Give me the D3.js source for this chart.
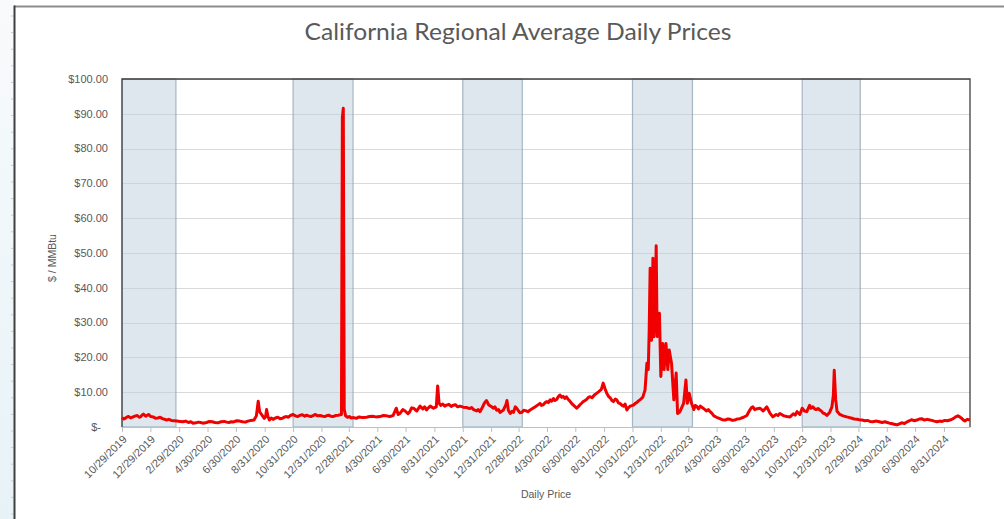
<!DOCTYPE html>
<html>
<head>
<meta charset="utf-8">
<script src="https://cdn.jsdelivr.net/npm/d3@7"></script>
<style>
  html, body { margin: 0; padding: 0; background: #ffffff; }
  svg { display: block; }
</style>
</head>
<body>
<svg id="chart" width="1004" height="519"></svg>
<script>
// ---------------- DATA ----------------
const chartTitle = "California Regional Average Daily Prices";
const yAxisTitle = "$ / MMBtu";
const xAxisTitle = "Daily Price";

const yTickValues = [0, 10, 20, 30, 40, 50, 60, 70, 80, 90, 100];

const xTickLabels = ["10/29/2019","12/29/2019","2/29/2020","4/30/2020","6/30/2020","8/31/2020",
  "10/31/2020","12/31/2020","2/28/2021","4/30/2021","6/30/2021","8/31/2021","10/31/2021",
  "12/31/2021","2/28/2022","4/30/2022","6/30/2022","8/31/2022","10/31/2022","12/31/2022",
  "2/28/2023","4/30/2023","6/30/2023","8/31/2023","10/31/2023","12/31/2023","2/29/2024",
  "4/30/2024","6/30/2024","8/31/2024"];

const domainStart = "2019-10-29";
const domainEnd = "2024-10-26";

// Winter shaded periods
const bandStarts = ["2019-10-29","2020-10-31","2021-10-31","2022-10-31","2023-10-31"];
const bandEnds   = ["2020-02-22","2021-03-09","2022-03-08","2023-03-09","2024-03-04"];

const priceDates = [
"2019-10-29","2019-11-02","2019-11-05","2019-11-09","2019-11-12","2019-11-17","2019-11-22","2019-11-27","2019-12-01","2019-12-05","2019-12-08","2019-12-11","2019-12-14","2019-12-19","2019-12-25","2019-12-30",
"2020-01-04","2020-01-09","2020-01-14","2020-01-19","2020-01-24","2020-02-02","2020-02-07","2020-02-12","2020-02-18","2020-02-24","2020-03-02","2020-03-08","2020-03-14","2020-03-20","2020-03-25","2020-03-30",
"2020-04-05","2020-04-10","2020-04-15","2020-04-20","2020-04-28","2020-05-04","2020-05-10","2020-05-16","2020-05-22","2020-05-29","2020-06-05","2020-06-10","2020-06-15","2020-06-20","2020-06-25","2020-07-02","2020-07-08",
"2020-07-14","2020-07-20","2020-07-26","2020-08-01","2020-08-08","2020-08-13","2020-08-17","2020-08-20","2020-08-24","2020-08-30","2020-09-02",
"2020-09-04","2020-09-07","2020-09-10","2020-09-14","2020-09-18","2020-09-23","2020-09-28","2020-10-03","2020-10-08","2020-10-13","2020-10-17","2020-10-21","2020-10-25","2020-10-31",
"2020-11-05","2020-11-10","2020-11-15","2020-11-20","2020-11-25","2020-11-29","2020-12-03","2020-12-08","2020-12-13","2020-12-18","2020-12-23","2020-12-28","2021-01-03","2021-01-08","2021-01-12","2021-01-16","2021-01-20","2021-01-25",
"2021-01-30","2021-02-05","2021-02-12","2021-02-14","2021-02-16","2021-02-18","2021-02-21","2021-02-25","2021-03-01","2021-03-05","2021-03-10","2021-03-16","2021-03-22",
"2021-03-30","2021-04-07","2021-04-13","2021-04-20","2021-04-27","2021-05-06","2021-05-13","2021-05-20","2021-05-27","2021-06-03","2021-06-10","2021-06-14","2021-06-18","2021-06-24",
"2021-06-29","2021-07-05","2021-07-09","2021-07-13","2021-07-17","2021-07-24","2021-07-31","2021-08-06","2021-08-10","2021-08-14",
"2021-08-18","2021-08-22","2021-08-29","2021-09-04","2021-09-07","2021-09-10","2021-09-14","2021-09-18","2021-09-22","2021-09-26","2021-10-01","2021-10-06","2021-10-10","2021-10-15",
"2021-10-20","2021-10-25","2021-11-01","2021-11-08","2021-11-15","2021-11-19","2021-11-23","2021-11-30","2021-12-03","2021-12-07","2021-12-12","2021-12-17",
"2021-12-21","2021-12-26","2022-01-01","2022-01-05","2022-01-08","2022-01-12","2022-01-16","2022-01-19","2022-01-26","2022-02-01","2022-02-03",
"2022-02-06","2022-02-10","2022-02-14","2022-02-17","2022-02-21","2022-02-24","2022-02-28","2022-03-03","2022-03-07","2022-03-11","2022-03-15","2022-03-20","2022-03-25",
"2022-03-30","2022-04-05","2022-04-10","2022-04-15","2022-04-18","2022-04-22","2022-04-26","2022-04-30","2022-05-03","2022-05-07","2022-05-10","2022-05-14","2022-05-17","2022-05-21","2022-05-24","2022-05-28","2022-06-01","2022-06-04",
"2022-06-08","2022-06-11","2022-06-15","2022-06-18","2022-06-22","2022-06-26","2022-07-03","2022-07-07","2022-07-10","2022-07-14","2022-07-17","2022-07-21","2022-07-25","2022-07-28","2022-08-01","2022-08-05","2022-08-10",
"2022-08-14","2022-08-19","2022-08-25","2022-08-29","2022-09-02","2022-09-06","2022-09-10","2022-09-13","2022-09-17","2022-09-20","2022-09-24","2022-09-27","2022-10-01","2022-10-04",
"2022-10-08","2022-10-12","2022-10-15","2022-10-19","2022-10-22","2022-10-26","2022-11-02","2022-11-06","2022-11-09","2022-11-13","2022-11-16","2022-11-22","2022-11-27","2022-12-01",
"2022-12-04","2022-12-06","2022-12-08","2022-12-10","2022-12-11","2022-12-14","2022-12-16","2022-12-19","2022-12-21",
"2022-12-23","2022-12-28","2022-12-31","2023-01-04","2023-01-07","2023-01-11","2023-01-15","2023-01-18","2023-01-23",
"2023-01-28","2023-02-02","2023-02-05","2023-02-10","2023-02-18","2023-02-23","2023-02-26","2023-03-02","2023-03-07",
"2023-03-12","2023-03-15","2023-03-19","2023-03-22","2023-03-26","2023-04-01","2023-04-05","2023-04-08","2023-04-12","2023-04-16","2023-04-20","2023-04-24","2023-04-30","2023-05-07",
"2023-05-12","2023-05-18","2023-05-24","2023-05-29","2023-06-03","2023-06-08","2023-06-13","2023-06-19","2023-06-27","2023-07-04","2023-07-10","2023-07-14","2023-07-17","2023-07-21","2023-07-24",
"2023-08-01","2023-08-05","2023-08-08","2023-08-12","2023-08-16","2023-08-23","2023-08-29","2023-09-05","2023-09-09","2023-09-13","2023-09-18","2023-09-22","2023-09-28","2023-10-05",
"2023-10-12","2023-10-16","2023-10-20","2023-10-26","2023-10-31","2023-11-05","2023-11-10","2023-11-16","2023-11-19","2023-11-23","2023-11-27","2023-11-30",
"2023-12-04","2023-12-08","2023-12-12","2023-12-15","2023-12-19","2023-12-23","2023-12-29","2024-01-03","2024-01-06","2024-01-08","2024-01-11","2024-01-14",
"2024-01-20","2024-01-27","2024-02-04","2024-02-10","2024-02-15","2024-02-20","2024-02-26","2024-03-02","2024-03-08","2024-03-14","2024-03-19","2024-03-25","2024-03-31","2024-04-06","2024-04-12",
"2024-04-20","2024-04-26","2024-05-01","2024-05-06","2024-05-10","2024-05-16","2024-05-22","2024-05-27","2024-06-01","2024-06-07","2024-06-13","2024-06-18","2024-06-22","2024-06-28","2024-07-04","2024-07-09","2024-07-14",
"2024-07-20","2024-07-26","2024-08-01","2024-08-05","2024-08-10","2024-08-16","2024-08-22","2024-08-27","2024-09-02","2024-09-07","2024-09-13","2024-09-20","2024-09-25","2024-09-30","2024-10-04","2024-10-07","2024-10-11","2024-10-15",
"2024-10-20","2024-10-26"];

const priceValues = [
2.7,2.3,2.5,2.9,3.0,2.6,2.9,3.2,3.3,2.8,2.9,3.4,3.7,3.1,3.6,3.0,
2.9,2.5,2.6,2.8,2.4,2.0,2.2,1.9,1.8,1.7,1.6,1.5,1.7,1.3,1.5,1.05,
1.2,1.4,1.3,1.1,1.3,1.6,1.5,1.3,1.2,1.5,1.6,1.4,1.3,1.5,1.45,1.8,1.7,
1.5,1.4,1.7,1.9,2.0,3.2,7.4,4.4,3.6,2.5,3.0,
5.0,3.0,2.0,2.6,2.2,2.6,2.8,2.4,2.5,2.9,3.0,2.8,3.3,3.6,
3.2,3.0,3.4,3.5,3.1,3.4,3.2,3.0,3.3,3.6,3.2,3.3,3.1,3.0,3.3,3.4,3.1,3.0,
3.3,3.4,3.6,89.0,91.6,5.0,3.2,2.8,3.0,2.6,2.7,2.5,2.9,
2.7,2.8,3.0,3.1,2.9,3.0,3.3,3.2,3.0,3.3,5.4,3.6,3.9,5.0,
4.6,3.8,4.4,5.5,5.4,4.6,6.0,5.2,5.8,4.9,
5.5,6.0,5.4,5.8,11.8,6.8,6.2,6.6,6.0,6.3,6.5,5.9,6.2,6.4,
5.8,6.0,5.7,5.6,5.3,5.6,5.0,4.6,5.0,4.4,5.6,7.0,
7.6,6.3,5.8,5.4,5.8,4.8,5.0,4.2,4.8,6.5,7.6,
4.8,3.9,4.5,4.2,5.8,5.4,4.6,4.1,4.2,4.8,4.7,4.4,4.9,
5.3,5.8,6.3,6.8,6.2,6.4,7.0,7.3,7.0,7.8,7.4,8.2,7.6,7.9,8.6,9.2,8.5,8.8,
8.2,8.7,7.9,7.5,6.8,6.3,5.4,5.9,6.4,6.9,7.3,7.6,8.0,8.5,8.7,8.4,9.2,
9.6,10.1,10.8,12.6,11.0,9.6,8.7,8.4,7.6,7.3,8.0,7.8,6.9,6.8,
6.3,6.0,6.6,4.9,5.5,6.0,6.3,6.8,7.0,7.5,7.8,8.5,10.6,18.3,
16.5,28.0,45.6,30.0,24.9,48.5,25.9,35.0,52.1,
26.0,32.7,14.5,24.0,16.5,24.0,16.5,22.1,18.3,
7.8,15.5,3.9,4.4,6.8,13.5,6.8,9.7,6.8,
5.0,6.2,5.8,5.2,6.0,5.4,5.0,4.6,5.0,4.4,3.9,3.2,2.8,2.4,
2.1,2.0,2.3,2.2,1.9,2.0,2.3,2.4,2.8,3.3,4.8,5.6,5.8,5.0,5.2,
5.4,5.0,4.6,5.2,5.8,3.9,2.9,3.6,3.3,3.9,3.5,3.2,3.0,2.9,
3.8,3.4,4.4,3.6,5.4,4.6,4.4,6.2,5.4,5.8,5.2,5.0,
5.3,4.9,4.5,4.0,3.8,3.3,4.2,5.8,9.0,16.3,8.0,4.5,
3.6,3.2,2.9,2.7,2.5,2.3,2.2,2.1,2.0,1.8,1.9,1.6,1.5,1.7,1.6,
1.3,1.5,1.3,1.1,1.0,0.8,0.6,0.9,1.2,1.0,1.5,1.8,2.1,1.8,2.0,2.3,2.4,
2.0,2.2,2.0,1.9,1.7,1.5,1.7,1.6,1.9,1.8,2.0,2.4,2.9,3.2,2.9,2.6,2.1,1.7,
2.2,2.0];

// ---------------- DRAW ----------------
const svg = d3.select("#chart");
const W = 1004, H = 519;
const plot = { left: 122, right: 970, top: 79, bottom: 427 };

const parseISO = d3.timeParse("%Y-%m-%d");
const parseUS = d3.timeParse("%m/%d/%Y");

const x = d3.scaleTime()
  .domain([parseISO(domainStart), parseISO(domainEnd)])
  .range([plot.left, plot.right]);
const y = d3.scaleLinear().domain([0, 100]).range([plot.bottom, plot.top]);

// page decoration: left strip + frame lines
const defs = svg.append("defs");
const grad = defs.append("linearGradient").attr("id", "strip").attr("x1", 0).attr("y1", 0).attr("x2", 0).attr("y2", 1);
grad.append("stop").attr("offset", "0%").attr("stop-color", "#f8fbfc");
grad.append("stop").attr("offset", "100%").attr("stop-color", "#e7f2f7");
svg.append("rect").attr("x", 0).attr("y", 0).attr("width", 14).attr("height", H).attr("fill", "url(#strip)");
svg.append("g").selectAll("line").data(d3.range(16, H, 16.6)).join("line")
  .attr("x1", 11).attr("x2", 13.5).attr("y1", d => d).attr("y2", d => d)
  .attr("stroke", "#c8cdd0").attr("stroke-width", 1);
svg.append("line").attr("x1", 14).attr("x2", W).attr("y1", 6.5).attr("y2", 6.5)
  .attr("stroke", "#8c8c8c").attr("stroke-width", 2);
svg.append("line").attr("x1", 14.5).attr("x2", 14.5).attr("y1", 5.5).attr("y2", H)
  .attr("stroke", "#3f3f3f").attr("stroke-width", 2);

// title
svg.append("text")
  .attr("x", 518).attr("y", 40)
  .attr("text-anchor", "middle")
  .attr("font-family", "Lato, 'Liberation Sans', sans-serif")
  .attr("font-size", 24)
  .attr("fill", "#595959")
  .attr("textLength", 427).attr("lengthAdjust", "spacingAndGlyphs")
  .text(chartTitle);

// gridlines
svg.append("g").selectAll("line").data(yTickValues.filter(v => v > 0)).join("line")
  .attr("x1", plot.left).attr("x2", plot.right)
  .attr("y1", d => Math.round(y(d)) + 0.5).attr("y2", d => Math.round(y(d)) + 0.5)
  .attr("stroke", "#d9d9d9").attr("stroke-width", 1);

// winter bands
const bands = bandStarts.map((s, i) => ({ s: parseISO(s), e: parseISO(bandEnds[i]) }));
svg.append("g").selectAll("rect").data(bands).join("rect")
  .attr("x", d => x(d.s)).attr("width", d => x(d.e) - x(d.s))
  .attr("y", plot.top).attr("height", plot.bottom - plot.top)
  .attr("fill", "#bccfdc").attr("fill-opacity", 0.5)
  .attr("stroke", "#8ea3b3").attr("stroke-opacity", 0.75).attr("stroke-width", 1.2);

// y axis labels
const fmtY = v => v === 0 ? "$-" : "$" + d3.format(",.2f")(v);
svg.append("g").selectAll("text").data(yTickValues).join("text")
  .attr("x", d => d === 0 ? 101 : 108)
  .attr("y", d => y(d))
  .attr("dy", "0.35em")
  .attr("text-anchor", "end")
  .attr("font-family", "'Liberation Sans', Arial, sans-serif")
  .attr("font-size", 11)
  .attr("fill", "#595959")
  .text(fmtY);

// y axis title
svg.append("text")
  .attr("transform", "translate(56,258) rotate(-90)")
  .attr("text-anchor", "middle")
  .attr("font-family", "'Liberation Sans', Arial, sans-serif")
  .attr("font-size", 10.5)
  .attr("fill", "#595959")
  .text(yAxisTitle);

// x axis
const xTicks = xTickLabels.map(parseUS);
const fmtX = d3.timeFormat("%-m/%-d/%Y");
const xAxis = d3.axisBottom(x).tickValues(xTicks).tickFormat(fmtX).tickSize(5).tickSizeOuter(0);
const gx = svg.append("g").attr("transform", `translate(0,${plot.bottom})`).call(xAxis);
gx.select(".domain").attr("stroke", "#bfbfbf").attr("stroke-width", 1.2);
gx.selectAll(".tick line").attr("stroke", "#bfbfbf");
gx.selectAll(".tick text")
  .attr("font-family", "'Liberation Sans', Arial, sans-serif")
  .attr("font-size", 11)
  .attr("fill", "#595959")
  .attr("text-anchor", "end")
  .attr("dy", null)
  .attr("y", null)
  .attr("transform", "translate(5,13) rotate(-45)");

// x axis title
svg.append("text")
  .attr("x", 546).attr("y", 498)
  .attr("text-anchor", "middle")
  .attr("font-family", "'Liberation Sans', Arial, sans-serif")
  .attr("font-size", 10.5)
  .attr("fill", "#595959")
  .text(xAxisTitle);

// plot frame (left, top, right)
svg.append("path")
  .attr("d", `M${plot.left},${plot.bottom}V${plot.top}H${plot.right}V${plot.bottom}`)
  .attr("fill", "none").attr("stroke", "#404040").attr("stroke-width", 1.3);

// price line
const series = priceDates.map((d, i) => ({ date: parseISO(d), value: priceValues[i] }));
const line = d3.line().x(d => x(d.date)).y(d => y(d.value));
svg.append("path")
  .datum(series)
  .attr("d", line)
  .attr("fill", "none")
  .attr("stroke", "#f00000")
  .attr("stroke-width", 3)
  .attr("stroke-linejoin", "round");
</script>
</body>
</html>
